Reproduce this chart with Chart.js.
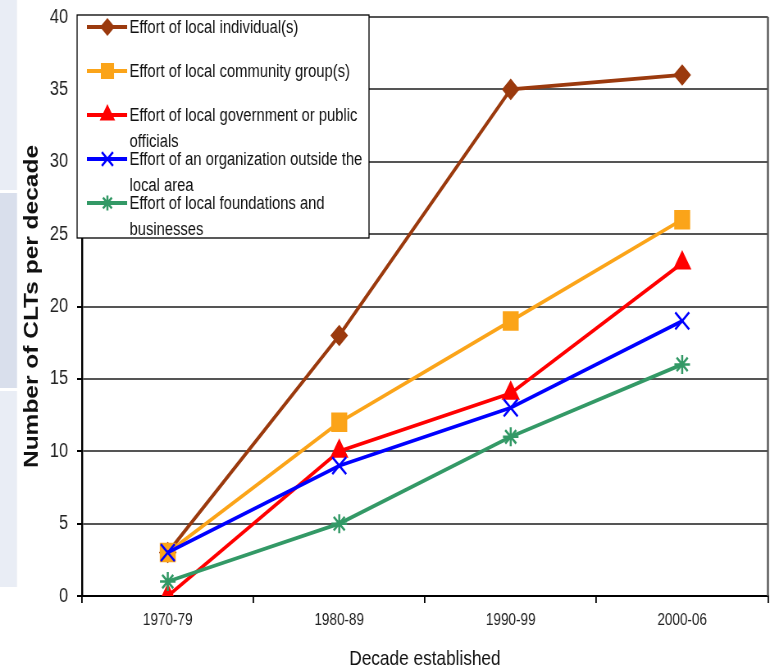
<!DOCTYPE html>
<html>
<head>
<meta charset="utf-8">
<script src="https://cdn.jsdelivr.net/npm/chart.js@4.4.1/dist/chart.umd.min.js"></script>
<style>
html, body { margin: 0; padding: 0; background: #fff; overflow: hidden; }
#outer { width: 770px; height: 667px; overflow: hidden; position: relative; }
#myChart { position: absolute; left: 0; top: 0; transform-origin: 0 0; }
</style>
</head>
<body>
<div id="outer"><canvas id="myChart" width="951" height="667"></canvas></div>
<script>
const decades = ['1970-79', '1980-89', '1990-99', '2000-06'];
const yTicks = [0, 5, 10, 15, 20, 25, 30, 35, 40];

// legend text, split where the original wraps
const nameIndividuals = ['Effort of local individual(s)'];
const nameCommunity = ['Effort of local community group(s)'];
const nameGovernment = ['Effort of local government or public', 'officials'];
const nameOutside = ['Effort of an organization outside the', 'local area'];
const nameFoundations = ['Effort of local foundations and', 'businesses'];

const individuals = [3, 18, 35, 36];
const community = [3, 12, 19, 26];
const government = [0, 10, 14, 23];
const outside = [3, 9, 13, 19];
const foundations = [1, 5, 11, 16];

// the original picture is squeezed sideways, so draw wide and squeeze it
const squeeze = 0.82;
const canvas = document.getElementById('myChart');
canvas.style.transform = 'scaleX(' + squeeze + ')';

const sans = "'Liberation Sans', Arial, sans-serif";

function makeSet(label, data, color, style, radius, order) {
    return {
        label: label,
        data: data,
        borderColor: color,
        backgroundColor: color,
        pointBackgroundColor: color,
        pointBorderColor: color,
        borderWidth: 3.8,
        pointStyle: style,
        pointRadius: radius,
        pointBorderWidth: 2.5,
        tension: 0,
        order: order
    };
}

// pale side panels of the slide behind the chart
const backdrop = {
    id: 'backdrop',
    beforeDraw(chart) {
        const ctx = chart.ctx;
        const w = 17 / squeeze;
        ctx.save();
        ctx.fillStyle = '#e9edf5';
        ctx.fillRect(0, 0, w, 190);
        ctx.fillStyle = '#d9dfec';
        ctx.fillRect(0, 193, w, 195);
        ctx.fillStyle = '#e9edf5';
        ctx.fillRect(0, 391, w, 196);
        ctx.restore();
    }
};

// right edge of the plot frame
const frame = {
    id: 'frame',
    beforeDatasetsDraw(chart) {
        const a = chart.chartArea;
        const ctx = chart.ctx;
        ctx.save();
        ctx.strokeStyle = '#555';
        ctx.lineWidth = 2.4;
        ctx.beginPath();
        ctx.moveTo(a.right, a.top);
        ctx.lineTo(a.right, a.bottom);
        ctx.stroke();
        ctx.restore();
    }
};

// boxed legend sitting in the top-left of the plot
const boxLegend = {
    id: 'boxLegend',
    afterDraw(chart) {
        const ctx = chart.ctx;
        const a = chart.chartArea;
        const x0 = a.left - 6, y0 = a.top - 2;
        ctx.save();
        ctx.fillStyle = '#fff';
        ctx.fillRect(x0, y0, 356, 223);
        ctx.strokeStyle = '#000';
        ctx.lineWidth = 1.3;
        ctx.strokeRect(x0, y0, 356, 223);
        ctx.font = '18px ' + sans;
        ctx.textBaseline = 'middle';
        let y = y0 + 12;
        chart.data.datasets.forEach(ds => {
            ctx.strokeStyle = ds.borderColor;
            ctx.fillStyle = ds.borderColor;
            ctx.lineWidth = 3.8;
            ctx.beginPath();
            ctx.moveTo(x0 + 12, y);
            ctx.lineTo(x0 + 61, y);
            ctx.stroke();
            ctx.lineWidth = 2.5;
            Chart.helpers.drawPoint(ctx, {
                pointStyle: ds.pointStyle,
                radius: ds.pointRadius * 0.8,
                rotation: 0,
                borderWidth: 2.5
            }, x0 + 37, y);
            ctx.fillStyle = '#111';
            ds.label.forEach((line, i) => {
                ctx.fillText(line, x0 + 64, y + 1 + i * 26);
            });
            y += 44;
        });
        ctx.restore();
    }
};

new Chart(canvas, {
    type: 'line',
    data: {
        labels: decades,
        datasets: [
            makeSet(nameIndividuals, individuals, '#9b3a0e', 'rectRot', 9, 5),
            makeSet(nameCommunity, community, '#fba419', 'rect', 12, 4),
            makeSet(nameGovernment, government, '#ff0000', 'triangle', 10.5, 3),
            makeSet(nameOutside, outside, '#0000ff', 'crossRot', 12, 2),
            makeSet(nameFoundations, foundations, '#339966', 'star', 9.5, 1)
        ]
    },
    options: {
        responsive: false,
        animation: false,
        devicePixelRatio: 1,
        layout: { padding: { top: 17, right: 2.4, left: 0, bottom: 0 } },
        plugins: {
            legend: { display: false },
            tooltip: { enabled: false }
        },
        scales: {
            x: {
                offset: true,
                grid: {
                    offset: true,
                    drawOnChartArea: false,
                    drawTicks: true,
                    tickLength: 7,
                    color: '#000',
                    lineWidth: 1.8
                },
                border: { color: '#000', width: 2 },
                ticks: {
                    color: '#222',
                    padding: 8,
                    font: { family: sans, size: 16.5 }
                },
                title: {
                    display: true,
                    text: 'Decade established',
                    color: '#111',
                    padding: { top: 0, bottom: -3 },
                    font: { family: sans, size: 21, lineHeight: 1 }
                },
                afterFit(scale) {
                    scale.height = 71;
                    scale.paddingLeft = 0;
                    scale.paddingRight = 0;
                }
            },
            y: {
                min: 0,
                max: 40,
                afterBuildTicks(scale) { scale.ticks = yTicks.map(v => ({ value: v })); },
                grid: {
                    color: '#555',
                    lineWidth: 2,
                    tickLength: 6,
                    tickColor: '#000'
                },
                border: { color: '#000', width: 2.4 },
                ticks: {
                    color: '#222',
                    padding: 11,
                    font: { family: sans, size: 20, lineHeight: 0.7 }
                },
                title: {
                    display: true,
                    text: 'Number of CLTs per decade',
                    color: '#111',
                    padding: { top: 25, bottom: 0 },
                    font: { family: sans, size: 24.5, weight: 'bold' }
                },
                afterFit(scale) {
                    scale.width = 82 / squeeze;
                    scale.paddingTop = 0;
                    scale.paddingBottom = 0;
                }
            }
        }
    },
    plugins: [backdrop, frame, boxLegend]
});
</script>
</body>
</html>
